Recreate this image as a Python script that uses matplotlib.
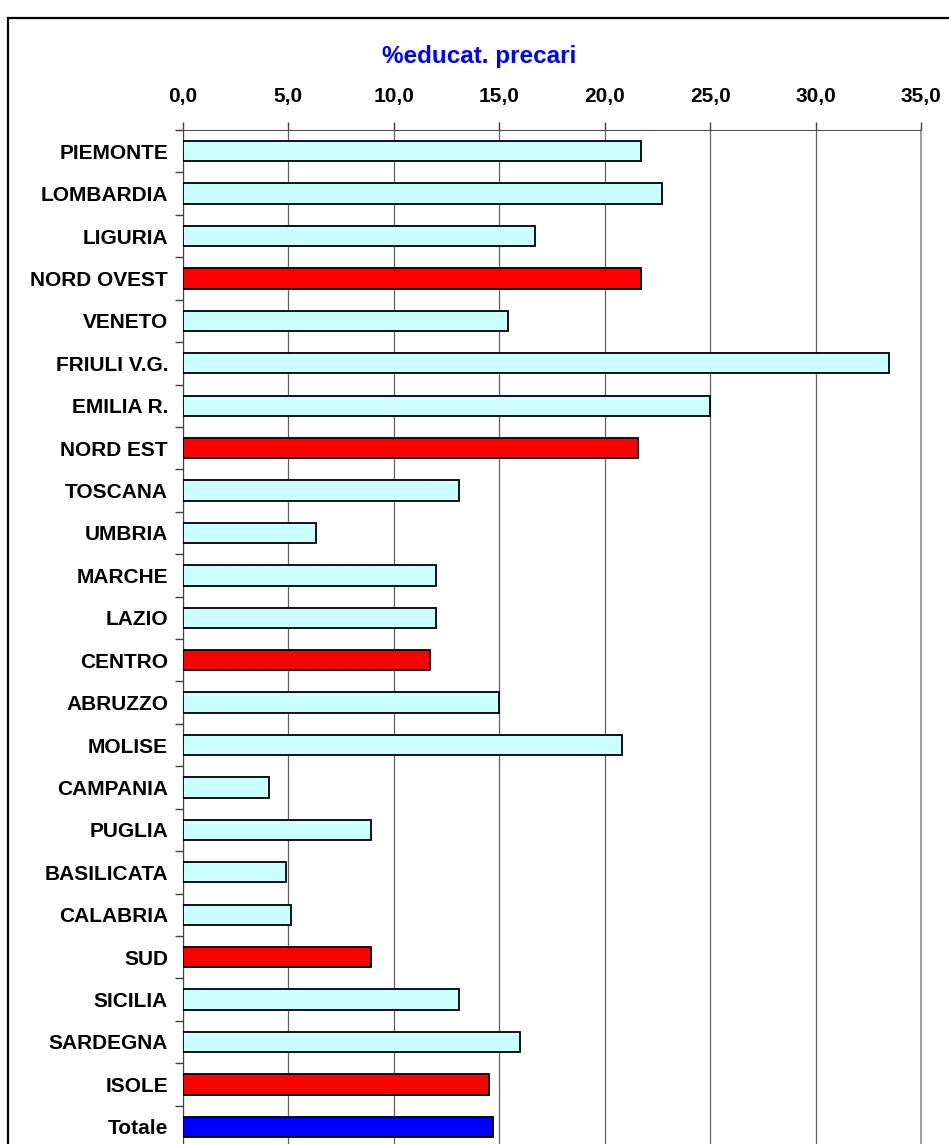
import matplotlib.pyplot as plt
from matplotlib.patches import Rectangle
import numpy as np

# dati
regioni = ['PIEMONTE', 'LOMBARDIA', 'LIGURIA', 'NORD OVEST', 'VENETO', 'FRIULI V.G.',
           'EMILIA R.', 'NORD EST', 'TOSCANA', 'UMBRIA', 'MARCHE', 'LAZIO', 'CENTRO',
           'ABRUZZO', 'MOLISE', 'CAMPANIA', 'PUGLIA', 'BASILICATA', 'CALABRIA', 'SUD',
           'SICILIA', 'SARDEGNA', 'ISOLE', 'Totale']
valori = [21.7, 22.7, 16.7, 21.7, 15.4, 33.5,
          25.0, 21.6, 13.1, 6.3, 12.0, 12.0, 11.7,
          15.0, 20.8, 4.1, 8.9, 4.9, 5.1, 8.9,
          13.1, 16.0, 14.5, 14.7]
tipo = ['r', 'r', 'r', 'm', 'r', 'r', 'r', 'm', 'r', 'r', 'r', 'r', 'm',
        'r', 'r', 'r', 'r', 'r', 'r', 'm', 'r', 'r', 'm', 't']
tick_x = [0, 5, 10, 15, 20, 25, 30, 35]

colori = {'r': '#CCFFFF', 'm': '#FF0000', 't': '#0000FF'}

plt.rcParams['font.family'] = ['Liberation Sans', 'DejaVu Sans']

W, H = 949, 1144
fig = plt.figure(figsize=(W / 100, H / 100), dpi=100)

# cornice esterna del grafico
fig.add_artist(Rectangle((8 / W, -0.1), 1.2, 1 - 18 / H + 0.1, transform=fig.transFigure,
                         fill=False, edgecolor='black', linewidth=1.6))

ax = fig.add_axes([183 / W, -4 / H, (921 - 183) / W, (1148 - 130) / H])

y = np.arange(len(regioni))
ax.barh(y, valori, height=0.48, color=[colori[t] for t in tipo],
        edgecolor='black', linewidth=1.3, zorder=3)

ax.set_xlim(0, 35)
ax.set_ylim(len(regioni) - 0.5, -0.5)

ax.set_xticks(tick_x)
ax.set_xticklabels([f"{v:.1f}".replace('.', ',') for v in tick_x],
                   fontsize=15, fontweight='bold')
ax.xaxis.tick_top()
ax.tick_params(axis='x', direction='out', length=6, width=1, color='#404040', pad=11)
ax.grid(axis='x', color='#606060', linewidth=0.9, zorder=1)

ax.set_yticks(y)
ax.set_yticklabels(regioni, fontsize=15, fontweight='bold')
ax.set_yticks(np.arange(len(regioni) + 1) - 0.5, minor=True)
ax.tick_params(axis='y', which='major', length=0, pad=10.8)
ax.tick_params(axis='y', which='minor', direction='out', length=6, width=1, color='#404040')

ax.spines['bottom'].set_visible(False)
ax.spines['right'].set_color('#909090')
ax.spines['right'].set_linewidth(1.2)
ax.spines['top'].set_color('#505050')
ax.spines['left'].set_color('#404040')

fig.text(479 / W, 1 - 62.5 / H, '%educat. precari', color='#0000FF',
         fontsize=17.5, fontweight='bold', ha='center', va='baseline')

plt.savefig('out.png', dpi=100)
